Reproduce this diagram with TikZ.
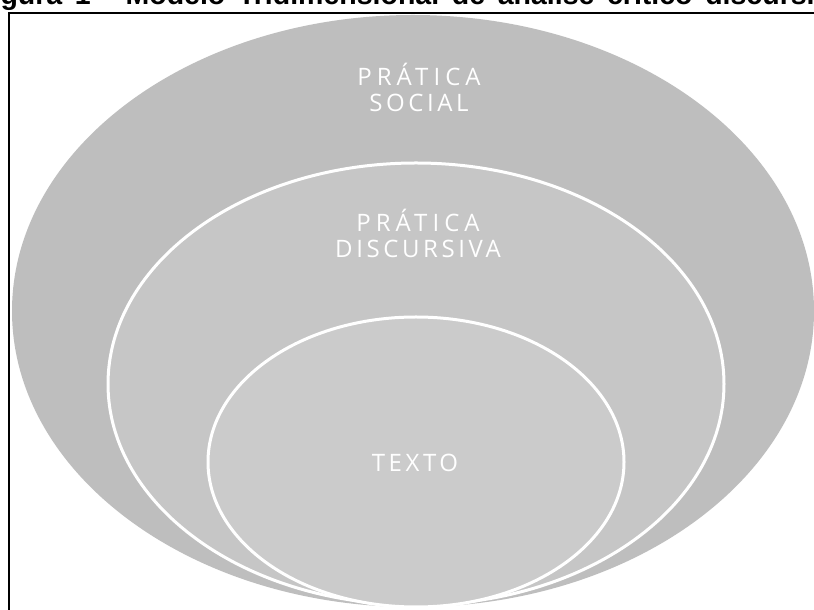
\documentclass[tikz,border=0pt]{standalone}
\usepackage{fontspec}
\setmainfont{Open Sans}
\newfontfamily\titlefont[WordSpace=1.6]{Liberation Sans}
\definecolor{outerfill}{RGB}{190,190,190}
\definecolor{midfill}{RGB}{198,198,198}
\definecolor{innerfill}{RGB}{203,203,203}
\newcommand{\wide}[1]{{\addfontfeature{LetterSpace=21}#1}}
\begin{document}
\begin{tikzpicture}[x=1pt,y=1pt,
  lbl/.style={text=white, inner sep=0pt, align=center,
    font=\fontsize{24}{26}\selectfont\addfontfeature{LetterSpace=15}},
  ring/.style={draw=white, line width=3pt}]
\useasboundingbox (0,0) rectangle (814,610);
\begin{scope}
\clip (0,0) rectangle (814,610);
\fill[white] (0,0) rectangle (814,610);
\node[anchor=base west, inner sep=0pt, font=\titlefont\bfseries\fontsize{28.5}{30}\selectfont] (title) at (-25,605)
  {Figura 1 - Modelo Tridimensional de análise crítico discursiva};
\draw[line width=2pt] (9,-10) -- (9,597.3) -- (830,597.3);
\fill[outerfill] (413,299) ellipse [x radius=401, y radius=296];
\path[fill=midfill, ring] (416,226) ellipse [x radius=308, y radius=221];
\path[fill=innerfill, ring] (416,148) ellipse [x radius=208, y radius=145];
\end{scope}
\node[lbl] (social) at (419,523) {\wide{PRÁTICA}\\SOCIAL};
\node[lbl] (discursiva) at (418,377) {\wide{PRÁTICA}\\DISCURSIVA};
\node[lbl, anchor=base] (texto) at (415,138) {TEXTO};
\end{tikzpicture}
\end{document}
